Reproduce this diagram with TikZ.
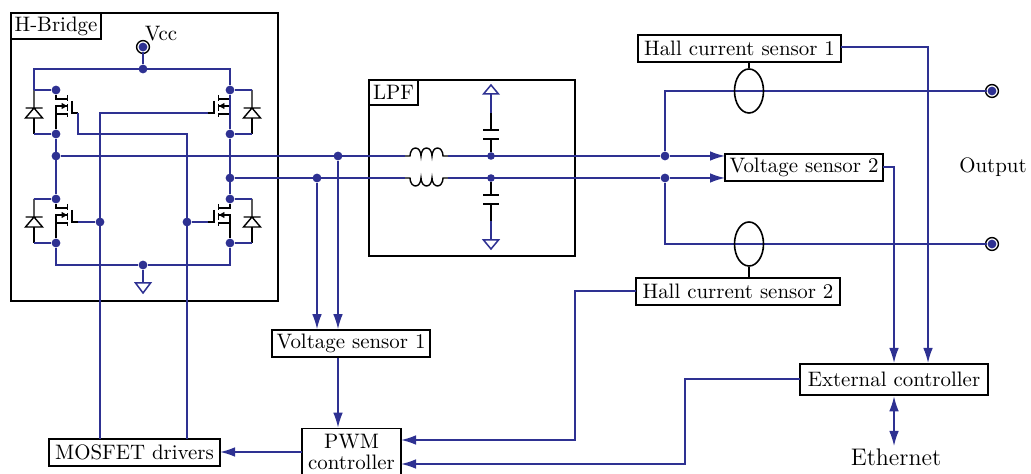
\documentclass[tikz,border=0pt]{standalone}
\usepackage{tikz}
\usetikzlibrary{arrows.meta,shapes.geometric}
\definecolor{wire-blue}{RGB}{46,49,146}
\tikzstyle{every node}=[font=\fontsize{10.45}{12.5}\selectfont]
\tikzstyle{wirestyle}=[draw=wire-blue,line width=0.75pt]
\tikzstyle{arrowstyle}=[wirestyle,-{Latex[length=7.5pt,width=4.8pt,color=wire-blue]}]
\tikzstyle{twoarrowstyle}=[wirestyle,{Latex[length=7.5pt,width=4.8pt,color=wire-blue]}-{Latex[length=7.5pt,width=4.8pt,color=wire-blue]}]
\tikzstyle{devstyle}=[draw=black,line width=0.7pt]
\tikzstyle{dotstyle}=[shape=circle,fill=wire-blue,inner sep=0pt,minimum size=4.4pt]
\tikzstyle{smalldotstyle}=[shape=circle,fill=wire-blue,inner sep=0pt,minimum size=3.8pt]
\tikzstyle{termstyle}=[shape=circle,draw=black,line width=0.7pt,inner sep=0pt,minimum size=6.4pt]
\tikzstyle{boxstyle}=[shape=rectangle,draw=black,line width=0.8pt,inner sep=0pt,fill=white]
\tikzstyle{sensorstyle}=[ellipse,draw=black,line width=0.8pt,inner sep=0pt,minimum width=14.5pt,minimum height=22pt]
\newcommand{\hbterm}[3]{ \node [style=termstyle] (#1) at (#2,#3) {}; \node [style=dotstyle] (#1Dot) at (#2,#3) {}; }
\newcommand{\hbtri}[4]{ \coordinate (#1) at (#2,#3); \draw [wirestyle] (#1) ++(-7.5,0) -- ++(15,0) -- ++(-7.5,#4) -- cycle; }
\newcommand{\hbcoil}[4]{ \draw [devstyle] (#2,#3) -- ++(5,0) arc [start angle=180,end angle=#4,x radius=2.75pt,y radius=4pt] arc [start angle=180,end angle=#4,x radius=2.75pt,y radius=4pt] arc [start angle=180,end angle=#4,x radius=2.75pt,y radius=4pt] -- ++(5,0) coordinate (#1); }
\newcommand{\hbcap}[6]{ \draw [devstyle] (#2) -- (#3,#4) ++(-8,0) -- ++(16,0); \draw [devstyle] (#3,#5) ++(-8,0) -- ++(16,0); \draw [devstyle] (#3,#5) -- (#3,#6) coordinate (#1); }
\newcommand{\hbfet}[4]{ \begin{scope}[shift={(#2,#3)},xscale=#4]
\node [style=dotstyle] (#1D) at (0,0) {}; \node [style=dotstyle] (#1S) at (0,44) {};
\coordinate (#1G) at (22,23); \coordinate (#1K) at (-22,0); \coordinate (#1A) at (-22,44);
\draw [devstyle] (#1D) |- (11.5,9); \draw [devstyle] (#1S) |- (11.5,16); \draw [devstyle] (0,24) -- (11.5,24);
\draw [devstyle] (11.5,5) -- (11.5,11) (11.5,14) -- (11.5,21) (11.5,23) -- (11.5,27);
\draw [devstyle] (16,11) -- (16,23) -- (#1G);
\draw [draw=black,line width=0.3pt,fill=black] (10.5,16) -- (6,13.5) -- (6,18.5) -- cycle;
\draw [devstyle] (#1K) -- (-22,18) ++(-8.5,0) -- ++(17,0) -- ++(-8.5,0) -- ++(8.5,10) -- ++(-17,0) -- ++(8.5,-10);
\draw [devstyle] (-22,28) -- (#1A);
\draw [wirestyle] (#1K) -- (#1D); \draw [wirestyle] (#1A) -- (#1S);
\end{scope} }
\begin{document}
\begin{tikzpicture}[x=0.5pt,y=-0.5pt]
\useasboundingbox (0,0) rectangle (1031,474);
\node [style=boxstyle,fill=none,minimum width=133.5pt,minimum height=144pt] (hbBox) at (144.5,157) {}; %
\node [style=boxstyle,minimum width=45pt,minimum height=13pt] (hbLabel) at (56,26) {H-Bridge}; %
\node [style=boxstyle,fill=none,minimum width=103pt,minimum height=88pt] (lpfBox) at (472,168) {}; %
\node [style=boxstyle,minimum width=24.5pt,minimum height=12.5pt] (lpfLabel) at (393.5,92.5) {LPF}; %
\hbterm{vcc}{143}{47} %
\node (vccText) at (161,34) {Vcc}; %
\hbfet{hbTL}{56}{90}{1} %
\hbfet{hbTR}{230}{90}{-1} %
\hbfet{hbBL}{56}{199}{1} %
\hbfet{hbBR}{230}{199}{-1} %
\node [style=dotstyle] (vccRail) at (143,69) {}; %
\node [style=dotstyle] (gndRail) at (143,265) {}; %
\node [style=dotstyle] (midA) at (56,156) {}; %
\node [style=dotstyle] (midB) at (230,178) {}; %
\node [style=dotstyle] (gateBL) at (100,222) {}; %
\node [style=dotstyle] (gateBR) at (187,222) {}; %
\hbtri{hbGnd}{143}{283}{10} %
\draw [wirestyle] (vccDot) -- (vccRail); %
\draw [wirestyle] (hbTLK) -- (34,69) -- (230,69) -- (hbTRD); %
\draw [wirestyle] (hbTRS) -- (hbBRD); %
\draw [wirestyle] (hbTRD) -- (hbTRS); %
\draw [wirestyle] (hbTLS) -- (hbBLD); %
\draw [wirestyle] (hbBLS) |- (gndRail); %
\draw [wirestyle] (hbBRS) |- (gndRail); %
\draw [wirestyle] (gndRail) -- (hbGnd); %
\draw [wirestyle] (hbBLG) -- (gateBL); %
\draw [wirestyle] (hbBRG) -- (gateBR); %
\node [style=boxstyle,minimum width=85.5pt,minimum height=13.5pt] (fetDrv) at (134.5,452.5) {MOSFET drivers}; %
\node [style=boxstyle,minimum width=49.5pt,minimum height=23pt,align=center] (pwmCtrl) at (351.5,451.5) {PWM\\[-2pt]controller}; %
\node [style=boxstyle,minimum width=79pt,minimum height=13.5pt] (voltOne) at (351,343.5) {Voltage sensor 1}; %
\node [style=boxstyle,minimum width=79pt,minimum height=13.5pt] (voltTwo) at (804,167.5) {Voltage sensor 2}; %
\node [style=boxstyle,minimum width=101.5pt,minimum height=13.5pt] (hallOne) at (739.5,48.5) {Hall current sensor 1}; %
\node [style=boxstyle,minimum width=102pt,minimum height=13.5pt] (hallTwo) at (738,291.5) {Hall current sensor 2}; %
\node [style=boxstyle,line width=1.3pt,minimum width=94pt,minimum height=15.5pt] (extCtrl) at (894,379.5) {External controller}; %
\node [font=\large] (ethText) at (896,457) {Ethernet}; %
\node (outText) at (993,167) {Output}; %
\coordinate (drvA) at (100,439); %
\coordinate (drvB) at (187,439); %
\coordinate (pwmOut) at (302,452); %
\coordinate (drvIn) at (220,452); %
\draw [wirestyle] (drvA) -- (100,113) -- (hbTRG); %
\draw [wirestyle] (drvB) -- (187,134) -- (78,134) -- (hbTLG); %
\draw [arrowstyle] (pwmOut) -- (drvIn); %
\hbcoil{coilTop}{405}{156}{0} %
\hbcoil{coilBot}{405}{178}{360} %
\coordinate (coilTopIn) at (405,156); %
\coordinate (coilBotIn) at (405,178); %
\node [style=dotstyle] (upV) at (338,156) {}; %
\node [style=dotstyle] (dnV) at (317,178) {}; %
\node [style=smalldotstyle] (capTop) at (491,156) {}; %
\node [style=smalldotstyle] (capBot) at (491,178) {}; %
\node [style=dotstyle] (outTop) at (665,156) {}; %
\node [style=dotstyle] (outBot) at (665,178) {}; %
\coordinate (voltTwoA) at (725,156); %
\coordinate (voltTwoB) at (725,178); %
\draw [wirestyle] (midA) -- (coilTopIn); %
\draw [wirestyle] (midB) -- (coilBotIn); %
\draw [wirestyle] (coilTop) -- (outTop); %
\draw [wirestyle] (coilBot) -- (outBot); %
\draw [arrowstyle] (outTop) -- (voltTwoA); %
\draw [arrowstyle] (outBot) -- (voltTwoB); %
\draw [arrowstyle] (upV) -- (upV |- voltOne.north); %
\draw [arrowstyle] (dnV) -- (dnV |- voltOne.north); %
\draw [arrowstyle] (upV |- voltOne.south) -- (upV |- pwmCtrl.north); %
\hbcap{capTopEnd}{capTop}{491}{139}{130}{113} %
\hbcap{capBotEnd}{capBot}{491}{195}{204}{221} %
\hbtri{capTopTri}{491}{94}{-9} %
\hbtri{capBotTri}{491}{240}{9} %
\draw [wirestyle] (capTopEnd) -- (capTopTri); %
\draw [wirestyle] (capBotEnd) -- (capBotTri); %
\hbterm{termTop}{992}{91} %
\hbterm{termBot}{992}{244} %
\draw [wirestyle] (outTop) |- (termTopDot); %
\draw [wirestyle] (outBot) |- (termBotDot); %
\node [style=sensorstyle] (coreTop) at (749,91) {}; %
\node [style=sensorstyle] (coreBot) at (749,244) {}; %
\draw [devstyle] (hallOne.south -| coreTop) -- (coreTop); %
\draw [devstyle] (hallTwo.north -| coreBot) -- (coreBot); %
\coordinate (hallOneOut) at (841,47); %
\coordinate (hallTwoOut) at (636,291); %
\coordinate (voltTwoOut) at (883,167); %
\coordinate (extOut) at (800,379); %
\coordinate (extHall) at (928,363); %
\coordinate (extVolt) at (894,363); %
\coordinate (pwmHall) at (401,440); %
\coordinate (pwmExt) at (401,464); %
\coordinate (ethEnd) at (894,446); %
\draw [arrowstyle] (hallOneOut) -| (extHall); %
\draw [arrowstyle] (voltTwoOut) -| (extVolt); %
\draw [arrowstyle] (hallTwoOut) -| (575,440) -- (pwmHall); %
\draw [arrowstyle] (extOut) -| (685,464) -- (pwmExt); %
\draw [twoarrowstyle] (extCtrl.south) -- (ethEnd); %
\end{tikzpicture}
\end{document}
